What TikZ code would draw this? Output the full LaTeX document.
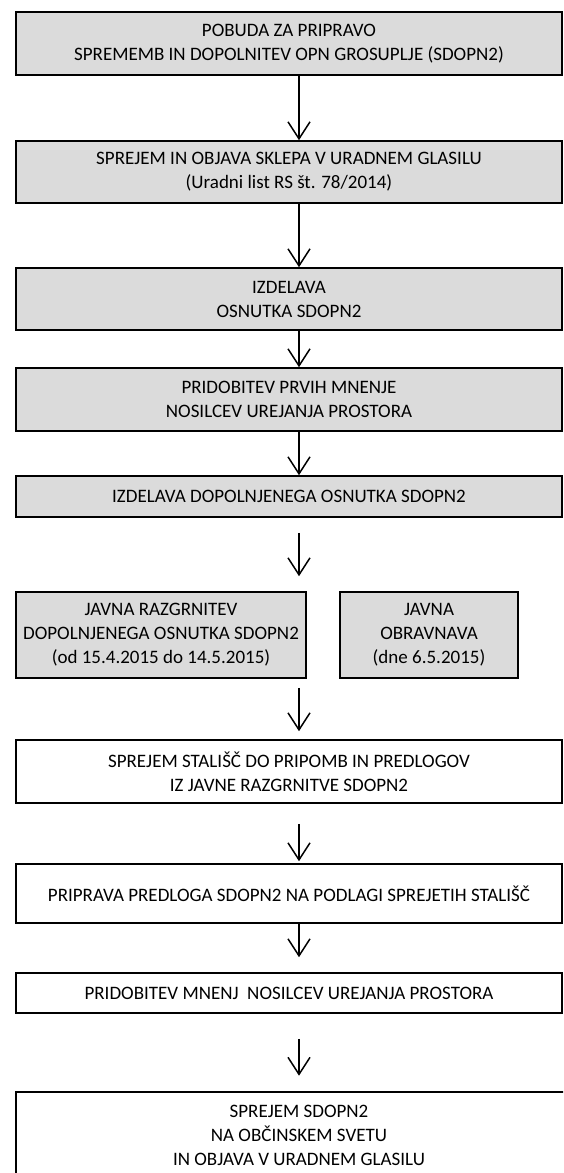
\documentclass[tikz,border=0pt]{standalone}
\usepackage{fontspec}
\setmainfont{Carlito}
\usetikzlibrary{arrows.meta}

\tikzset{
  korak/.style={draw, line width=1.6pt, inner sep=0pt, align=center,
    font=\fontsize{19}{24}\selectfont, minimum width=546pt},
  siv/.style={korak, fill=gray!28},
  bel/.style={korak, fill=white},
  puscica/.style={line width=1.5pt, -{Straight Barb[length=17pt,width=22pt,line width=1.5pt]}}
}

\begin{document}
\begin{tikzpicture}[x=1pt,y=-1pt]
		\useasboundingbox (0,0) rectangle (563,1173);
		\clip (0,0) rectangle (563,1173);
		\coordinate (os) at (299,0);

		\node[siv, minimum height=63pt] (pobuda) at (289,43.5) {POBUDA ZA PRIPRAVO\\SPREMEMB IN DOPOLNITEV OPN GROSUPLJE (SDOPN2)};
		\node[siv, minimum height=62pt] (sklep) at (289,172) {SPREJEM IN OBJAVA SKLEPA V URADNEM GLASILU\\(Uradni list RS št. 78/2014)};
		\node[siv, minimum height=62pt] (osnutek) at (289,299) {IZDELAVA\\OSNUTKA SDOPN2};
		\node[siv, minimum height=63pt] (mnenja1) at (289,399.5) {PRIDOBITEV PRVIH MNENJE\\NOSILCEV UREJANJA PROSTORA};
		\node[siv, minimum height=41pt] (dopolnjen) at (289,496.5) {IZDELAVA DOPOLNJENEGA OSNUTKA SDOPN2};

		\node[siv, minimum width=290pt, minimum height=86pt] (razgrnitev) at (161,635) {JAVNA RAZGRNITEV\\DOPOLNJENEGA OSNUTKA SDOPN2\\(od 15.4.2015 do 14.5.2015)};
		\node[siv, minimum width=178pt, minimum height=86pt] (obravnava) at (429,635) {JAVNA\\OBRAVNAVA\\(dne 6.5.2015)};

		\node[bel, minimum height=63pt] (stalisca) at (289,771.5) {SPREJEM STALIŠČ DO PRIPOMB IN PREDLOGOV\\IZ JAVNE RAZGRNITVE SDOPN2};
		\node[bel, minimum height=59pt] (predlog) at (289,893.5) {PRIPRAVA PREDLOGA SDOPN2 NA PODLAGI SPREJETIH STALIŠČ};
		\node[bel, minimum height=40pt] (mnenja2) at (289,993) {PRIDOBITEV MNENJ\ \ NOSILCEV UREJANJA PROSTORA};
		\node[bel, line width=2.6pt, minimum width=566pt, minimum height=86pt] (sprejem) at (299,1135) {SPREJEM SDOPN2\\NA OBČINSKEM SVETU\\IN OBJAVA V URADNEM GLASILU};

		\draw[puscica] (pobuda.south -| os) -- (sklep.north -| os);
		\draw[puscica] (sklep.south -| os) -- (osnutek.north -| os);
		\draw[puscica] (osnutek.south -| os) -- (mnenja1.north -| os);
		\draw[puscica] (mnenja1.south -| os) -- (dopolnjen.north -| os);
		\draw[puscica, shorten <=15pt, shorten >=15pt] (dopolnjen.south -| os) -- (razgrnitev.north -| os);
		\draw[puscica, shorten <=9pt, shorten >=8pt] (razgrnitev.south -| os) -- (stalisca.north -| os);
		\draw[puscica, shorten <=20pt, shorten >=2pt] (stalisca.south -| os) -- (predlog.north -| os);
		\draw[puscica, shorten >=15pt] (predlog.south -| os) -- (mnenja2.north -| os);
		\draw[puscica, shorten <=25pt, shorten >=15pt] (mnenja2.south -| os) -- (sprejem.north -| os);
\end{tikzpicture}
\end{document}
